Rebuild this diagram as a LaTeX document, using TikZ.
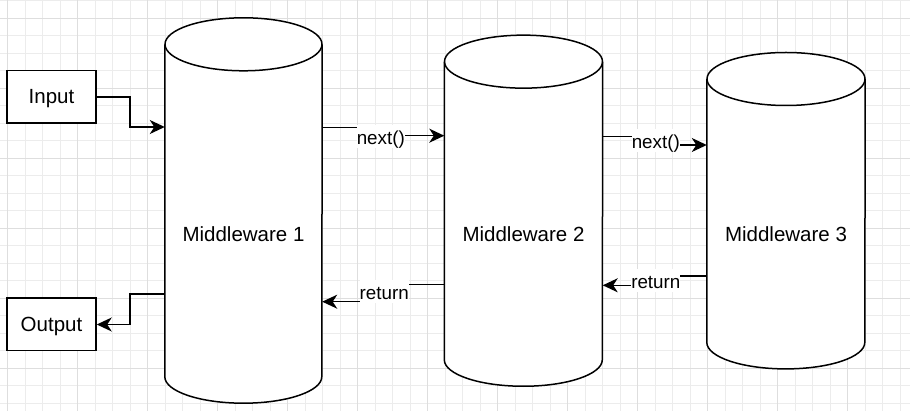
\documentclass[tikz,border=0pt]{standalone}
\usepackage{fontspec}
\setmainfont{Liberation Sans}
\usetikzlibrary{arrows.meta}
\pgfdeclarelayer{gridlayer}
\pgfdeclarelayer{cyllayer}
\pgfsetlayers{gridlayer,cyllayer,main}
\definecolor{gridminor}{RGB}{236,236,236}
\definecolor{gridmajor}{RGB}{222,222,222}
\tikzset{
  line/.style={draw=black, line width=1.5pt},
  arr/.style={line, -{Stealth[length=15pt,width=14pt,inset=4.5pt]}},
  iobox/.style={line, fill=white, inner sep=0pt, minimum width=89pt, minimum height=52.5pt,
    font=\fontsize{20.5pt}{24pt}\selectfont, text height=14pt, text depth=0pt},
  body/.style={inner sep=0pt, font=\fontsize{20.5pt}{24pt}\selectfont, text height=12pt, text depth=3pt},
  elbl/.style={fill=white, inner sep=0pt, anchor=base, font=\fontsize{18.8pt}{22pt}\selectfont,
    text height=20pt, text depth=3pt},
  cylfill/.style={fill=white},
  cylline/.style={line, line join=round},
  gminor/.style={draw=gridminor, line width=0.8pt},
  gmajor/.style={draw=gridmajor, line width=0.8pt},
}
\newcommand\drawcylinder[2]{%
  \path[cylfill] ([yshift=26.5pt]#1.north west) -- ([yshift=26.5pt]#1.south west)
    arc[start angle=180,end angle=360,x radius=#2pt,y radius=26.5pt]
    -- ([yshift=26.5pt]#1.north east)
    arc[start angle=0,end angle=180,x radius=#2pt,y radius=26.5pt] -- cycle;
  \draw[cylline] ([yshift=26.5pt]#1.north west) -- ([yshift=26.5pt]#1.south west)
    arc[start angle=180,end angle=360,x radius=#2pt,y radius=26.5pt]
    -- ([yshift=26.5pt]#1.north east);
  \draw[cylline] ([yshift=26.5pt]#1.north) ellipse[x radius=#2pt,y radius=26.5pt];
}
\begin{document}
\begin{tikzpicture}[x=1pt,y=-1pt]
\useasboundingbox (0,0) rectangle (910,411);
% grid
\begin{pgfonlayer}{gridlayer}
  \fill[white] (0,0) rectangle (910,411);
  \foreach \i in {0,...,51} {\pgfmathsetmacro\xx{7.5+17.5*\i}\draw[gminor] (\xx,0) -- (\xx,411);}
  \foreach \i in {0,...,23} {\pgfmathsetmacro\yy{0.8+17.5*\i}\draw[gminor] (0,\yy) -- (910,\yy);}
  \foreach \i in {0,...,12} {\pgfmathsetmacro\xx{7.5+70*\i}\draw[gmajor] (\xx,0) -- (\xx,411);}
  \foreach \i in {0,...,5} {\pgfmathsetmacro\yy{18.3+70*\i}\draw[gmajor] (0,\yy) -- (910,\yy);}
\end{pgfonlayer}
% boxes
\node[iobox] (in) at (51.5,97) {Input};
\node[iobox] (out) at (51.5,324.5) {Output};
% cylinders (label area nodes)
\node[body, minimum width=157pt, minimum height=332pt] (m1) at (243.5,237) {Middleware 1};
\node[body, minimum width=158pt, minimum height=297.7pt] (m2) at (523.5,237.2) {Middleware 2};
\node[body, minimum width=158pt, minimum height=263pt] (m3) at (786,237.2) {Middleware 3};
\begin{pgfonlayer}{cyllayer}
  \drawcylinder{m1}{78.5}
  \drawcylinder{m2}{79}
  \drawcylinder{m3}{79}
\end{pgfonlayer}
% connectors
\draw[arr] (in.east) -- (130,97) |- (m1.west |- 0,127);
\draw[arr] (m1.west |- 0,294) -- (130,294) |- (out.east);
\draw[arr] (m1.east |- 0,127.3) -- (380.8,127.3) -- (380.8,135.7) -- (m2.west |- 0,135.7);
\node[elbl] (l1) at (380.8,145) {next()};
\draw[arr] (m2.east |- 0,136.7) -- (655.8,136.7) -- (655.8,145) -- (m3.west |- 0,145);
\node[elbl] (l2) at (655.8,149) {next()};
\draw[arr] (m2.west |- 0,284.3) -- (384.2,284.3) -- (384.2,301.7) -- (m1.east |- 0,301.7);
\node[elbl] (l3) at (384.2,300) {return};
\draw[arr] (m3.west |- 0,276) -- (655.8,276) -- (655.8,285.3) -- (m2.east |- 0,285.3);
\node[elbl] (l4) at (655.8,288.7) {return};
\end{tikzpicture}
\end{document}
